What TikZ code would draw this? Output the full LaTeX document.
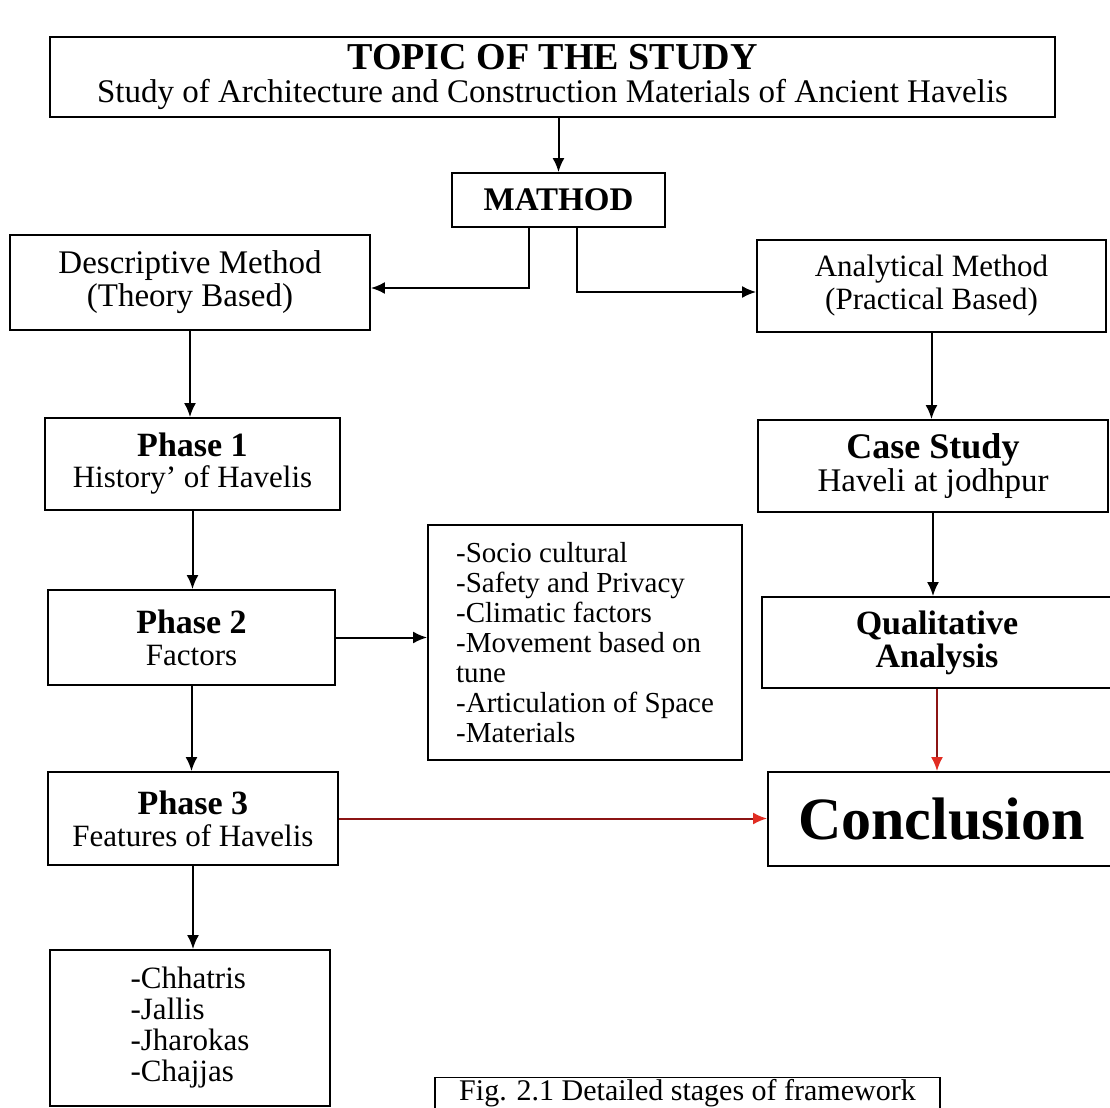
\documentclass[tikz,border=0pt]{standalone}
\usepackage{fontspec}
\setmainfont{Liberation Serif}
\usetikzlibrary{arrows.meta,calc}
\definecolor{linkred}{RGB}{140,20,20}
\definecolor{tipred}{RGB}{225,45,35}

\begin{document}
\begin{tikzpicture}[x=0.5pt,y=0.5pt,yscale=-1,xscale=1,
  box/.style={draw, line width=0.9pt, inner sep=0pt, align=center, font=\fontsize{16}{16.5}\selectfont},
  arr/.style={line width=1pt, -{Latex[length=7pt,width=6pt]}},
  redarr/.style={draw=linkred, line width=1pt, -{Latex[length=7pt,width=6pt,color=tipred]}}]
\useasboundingbox (0,0) rectangle (1110,1108);
\clip (0,0) rectangle (1110,1108);

%Shape: Rectangle [topic]
\node[box, minimum width=502.5pt, minimum height=40pt] (topic) at (552.5,77)
  {{\fontsize{19}{19}\selectfont\bfseries TOPIC OF THE STUDY}\\
   {\fontsize{16.5}{16.5}\selectfont Study of Architecture and Construction Materials of Ancient Havelis}};
%Shape: Rectangle [mathod]
\node[box, minimum width=106.5pt, minimum height=27pt, font=\fontsize{16.5}{16.5}\selectfont\bfseries] (mathod) at (558.5,200) {MATHOD};
%Shape: Rectangle [desc]
\node[box, minimum width=180pt, minimum height=47.5pt, font=\fontsize{16.5}{16.5}\selectfont] (desc) at (190,282.5) {Descriptive Method\\(Theory Based)};
%Shape: Rectangle [anal]
\node[box, minimum width=174.5pt, minimum height=46pt, font=\fontsize{15.5}{16.5}\selectfont] (anal) at (931.5,286) {Analytical Method\\(Practical Based)};

% left column
\node[box, minimum width=147.5pt, minimum height=46pt, font=\fontsize{15.5}{15.5}\selectfont] (phase1) at (192.5,464)
  {{\fontsize{17}{17}\selectfont\bfseries Phase 1}\\History' of Havelis};
\node[box, minimum width=143.5pt, minimum height=47.5pt, font=\fontsize{15.5}{16}\selectfont] (phase2) at (191.5,637.5)
  {{\fontsize{17}{17}\selectfont\bfseries Phase 2}\\Factors};
\node[box, minimum width=145pt, minimum height=46.5pt, font=\fontsize{15.5}{16}\selectfont] (phase3) at (193,818.5)
  {{\fontsize{17}{17}\selectfont\bfseries Phase 3}\\Features of Havelis};
\node[box, minimum width=157pt, minimum height=117.5pt, align=left, font=\fontsize{14.5}{15}\selectfont] (factors) at (585,642.5)
  {-Socio cultural\\-Safety and Privacy\\-Climatic factors\\-Movement based on\\tune\\-Articulation of Space\\-Materials};
\node[box, minimum width=140pt, minimum height=78pt, align=left, font=\fontsize{15.5}{15.5}\selectfont] (list) at (190,1028)
  {-Chhatris\\-Jallis\\-Jharokas\\-Chajjas};

% right column
\node[box, minimum width=175pt, minimum height=46pt, font=\fontsize{16.5}{16.5}\selectfont] (case) at (933,466)
  {{\fontsize{18}{18}\selectfont\bfseries Case Study}\\Haveli at jodhpur};
\node[box, minimum width=175pt, minimum height=45.5pt, font=\fontsize{17}{16.5}\selectfont\bfseries] (qual) at (937,642.5)
  {Qualitative\\Analysis};
\node[box, minimum width=173.5pt, minimum height=47pt, font=\fontsize{30}{30}\selectfont\bfseries] (concl) at (941.5,819) {Conclusion};

% Text Node
\node[box, minimum width=252.5pt, minimum height=15.5pt, font=\fontsize{15}{15}\selectfont] (cap) at (687.5,1093) {Fig. 2.1 Detailed stages of framework};

% connectors
\draw[arr] (topic.south -| mathod.north) -- (mathod.north);
\draw[arr] ($(mathod.south)+(-30,0)$) |- ($(desc.east)+(0,5.5)$);
\draw[arr] ($(mathod.south)+(18,0)$) |- ($(anal.west)+(0,6)$);
\draw[arr] (desc.south) -- (desc.south |- phase1.north);
\draw[arr] (phase1.south) -- (phase1.south |- phase2.north);
\draw[arr] (phase2.east) -- (phase2.east -| factors.west);
\draw[arr] (phase2.south) -- (phase2.south |- phase3.north);
\draw[arr] (phase3.south) -- (phase3.south |- list.north);
\draw[redarr] (phase3.east) -- (phase3.east -| concl.west);
\draw[arr] (anal.south) -- (anal.south |- case.north);
\draw[arr] (case.south) -- (case.south |- qual.north);
\draw[redarr] (qual.south) -- (qual.south |- concl.north);

\end{tikzpicture}
\end{document}
